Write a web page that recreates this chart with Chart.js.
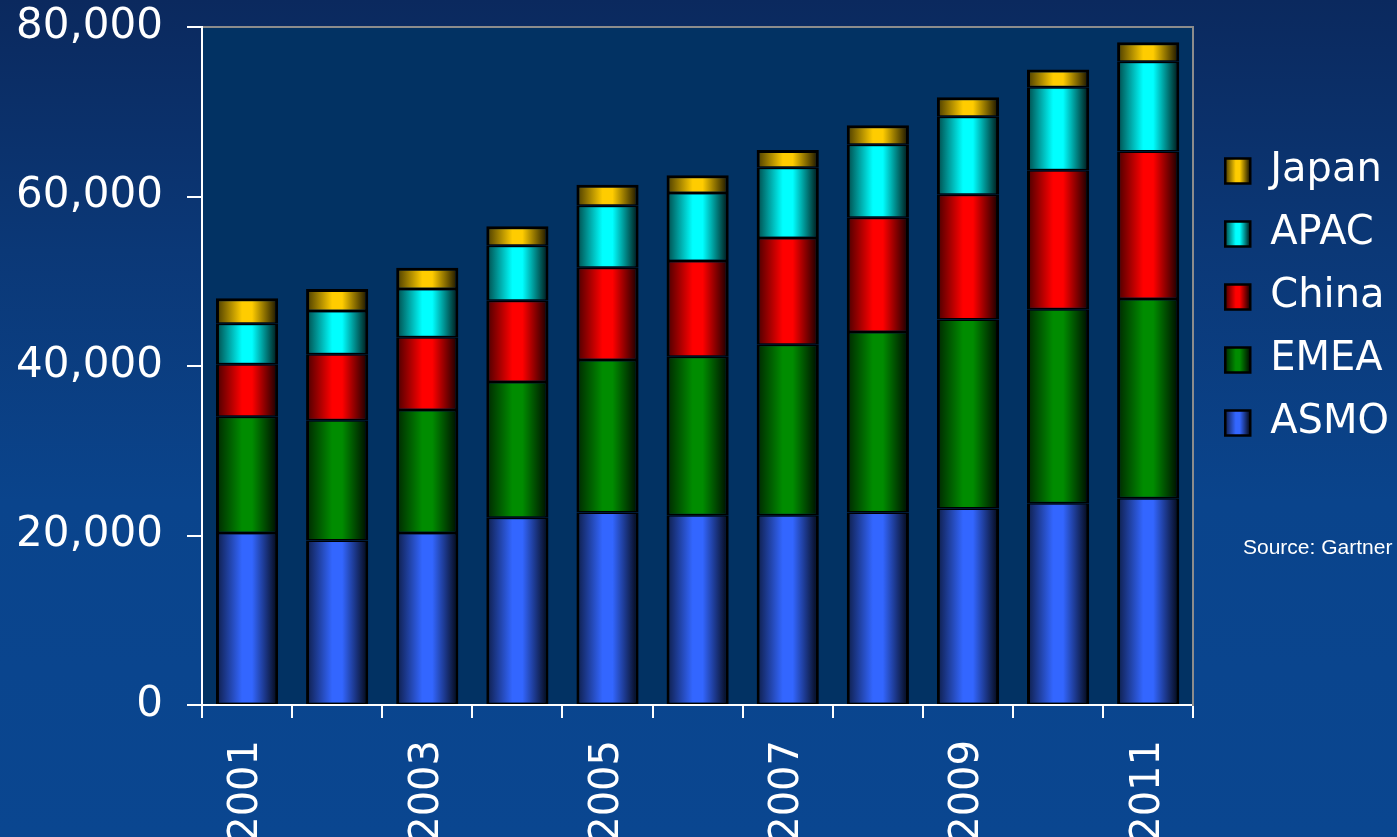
<!DOCTYPE html>
<html>
<head>
<meta charset="utf-8">
<script src="https://cdn.jsdelivr.net/npm/chart.js@4/dist/chart.umd.min.js"></script>
<style>
  html, body { margin: 0; padding: 0; overflow: hidden; width: 1397px; height: 837px; }
  body { background: linear-gradient(to bottom, #0b295e 0%, #0b3877 30%, #0a448c 60%, #0a4690 100%); position: relative; }
  #wrap { position: absolute; left: 0; top: 0; width: 1399px; height: 837px; }
  #source { position: absolute; left: 1243px; top: 535px; font-family: 'Liberation Sans', Arial, sans-serif; font-size: 21px; color: #ffffff; white-space: nowrap; }
</style>
</head>
<body>
<div id="wrap"><canvas id="c" width="1399" height="837"></canvas></div>
<div id="source">Source: Gartner</div>
<script>
// ---- data ----
const years = ['2001','2002','2003','2004','2005','2006','2007','2008','2009','2010','2011'];
const asmo  = [20300, 19400, 20300, 22100, 22700, 22400, 22400, 22700, 23200, 23800, 24400];
const emea  = [13700, 14200, 14500, 16000, 18000, 18700, 20100, 21300, 22300, 22900, 23500];
const china = [6200, 7800, 8600, 9600, 10900, 11300, 12600, 13500, 14700, 16400, 17400];
const apac  = [4800, 5100, 5700, 6500, 7300, 8000, 8300, 8600, 9200, 9800, 10600];
const japan = [3000, 2600, 2500, 2300, 2500, 2100, 2100, 2300, 2300, 2100, 2300];
const seriesNames = ['ASMO', 'EMEA', 'China', 'APAC', 'Japan'];
const yTicks = [0, 20000, 40000, 60000, 80000];

// ---- styles ----
const colors = { ASMO: '#3366ff', EMEA: '#008c00', China: '#ff0000', APAC: '#00ffff', Japan: '#ffcc00' };
const BAR_PCT = 0.69;
const LEGEND_BOX = 25;
const FONT = "'DejaVu Sans', Verdana, sans-serif";

function shade(hex, f) {
  const n = parseInt(hex.slice(1), 16);
  const r = Math.round(((n >> 16) & 255) * f), g = Math.round(((n >> 8) & 255) * f), b = Math.round((n & 255) * f);
  return 'rgb(' + r + ',' + g + ',' + b + ')';
}
function makeGrad(ctx2d, x0, x1, color) {
  const g = ctx2d.createLinearGradient(x0, 0, x1, 0);
  g.addColorStop(0, shade(color, 0.28));
  g.addColorStop(0.42, color);
  g.addColorStop(0.58, color);
  g.addColorStop(1, shade(color, 0.06));
  return g;
}
function barFill(color) {
  return function (ctx) {
    const chart = ctx.chart;
    const xs = chart.scales && chart.scales.x;
    if (ctx.type !== 'data' || !xs || !xs.width) return color;
    const cx = xs.getPixelForValue(ctx.dataIndex);
    const half = xs.width / years.length * BAR_PCT / 2;
    return makeGrad(chart.ctx, cx - half, cx + half, color);
  };
}

const seriesData = { ASMO: asmo, EMEA: emea, China: china, APAC: apac, Japan: japan };
const datasets = seriesNames.map((name, i) => ({
  label: name,
  data: seriesData[name],
  backgroundColor: barFill(colors[name]),
  borderColor: '#000000',
  borderWidth: { left: 3, right: 3, top: i === seriesNames.length - 1 ? 3 : 1.5, bottom: 1.5 },
  borderSkipped: false,
  barPercentage: BAR_PCT,
  categoryPercentage: 1.0
}));

const areaPlugin = {
  id: 'areaBg',
  beforeDraw(chart) {
    const a = chart.chartArea;
    const c = chart.ctx;
    c.save();
    c.fillStyle = '#023263';
    c.fillRect(a.left, a.top, a.right - a.left, a.bottom - a.top);
    c.restore();
    const lg = chart.legend;
    if (lg && lg.legendItems && lg.legendHitBoxes) {
      lg.legendItems.forEach((item, i) => {
        const hb = lg.legendHitBoxes[i];
        if (!hb) return;
        const name = chart.data.datasets[item.datasetIndex].label;
        item.fillStyle = makeGrad(c, hb.left, hb.left + LEGEND_BOX, colors[name]);
        item.lineWidth = 2.5;
      });
    }
  }
};

new Chart(document.getElementById('c'), {
  type: 'bar',
  data: { labels: years, datasets: datasets },
  options: {
    responsive: false,
    animation: false,
    layout: { padding: 0 },
    plugins: {
      legend: {
        position: 'right',
        reverse: true,
        align: 'start',
        title: { display: true, text: ' ', padding: { top: 113.6, bottom: 0 }, font: { size: 12 } },
        labels: {
          color: '#ffffff',
          font: { family: FONT, size: 40 },
          boxWidth: LEGEND_BOX,
          boxHeight: LEGEND_BOX,
          padding: 23
        }
      },
      tooltip: { enabled: false }
    },
    scales: {
      x: {
        stacked: true,
        grid: { display: true, drawOnChartArea: false, drawTicks: true, tickLength: 13, color: '#ffffff', lineWidth: 2 },
        border: { display: true, color: '#ffffff', width: 2 },
        ticks: {
          color: '#ffffff',
          font: { family: FONT, size: 40 },
          minRotation: 90, maxRotation: 90, autoSkip: false, padding: 22,
          callback: function (v, i) { return i % 2 === 0 ? years[i] : ''; }
        },
        afterFit(s) { s.height = 132; }
      },
      x2: {
        type: 'category',
        position: 'top',
        grid: { display: true, drawOnChartArea: false, drawTicks: false },
        border: { display: true, color: '#8c8c8c', width: 2 },
        ticks: { display: false },
        afterFit(s) { s.height = 27; s.paddingLeft = 0; s.paddingRight = 0; }
      },
      y: {
        stacked: true,
        min: yTicks[0],
        max: yTicks[yTicks.length - 1],
        afterBuildTicks(s) { s.ticks = yTicks.map(v => ({ value: v })); },
        grid: { display: true, drawOnChartArea: false, drawTicks: true, tickLength: 15, color: '#ffffff', lineWidth: 2 },
        border: { display: true, color: '#ffffff', width: 2 },
        ticks: { color: '#ffffff', font: { family: FONT, size: 42 }, padding: 24 },
        afterFit(s) { s.width = 202; s.paddingTop = 0; s.paddingBottom = 0; }
      },
      y2: {
        type: 'linear',
        position: 'right',
        min: yTicks[0],
        max: yTicks[yTicks.length - 1],
        grid: { display: true, drawOnChartArea: false, drawTicks: false },
        border: { display: true, color: '#8c8c8c', width: 2 },
        ticks: { display: false },
        afterFit(s) { s.width = 9; s.paddingTop = 0; s.paddingBottom = 0; }
      }
    }
  },
  plugins: [areaPlugin]
});
</script>
</body>
</html>
